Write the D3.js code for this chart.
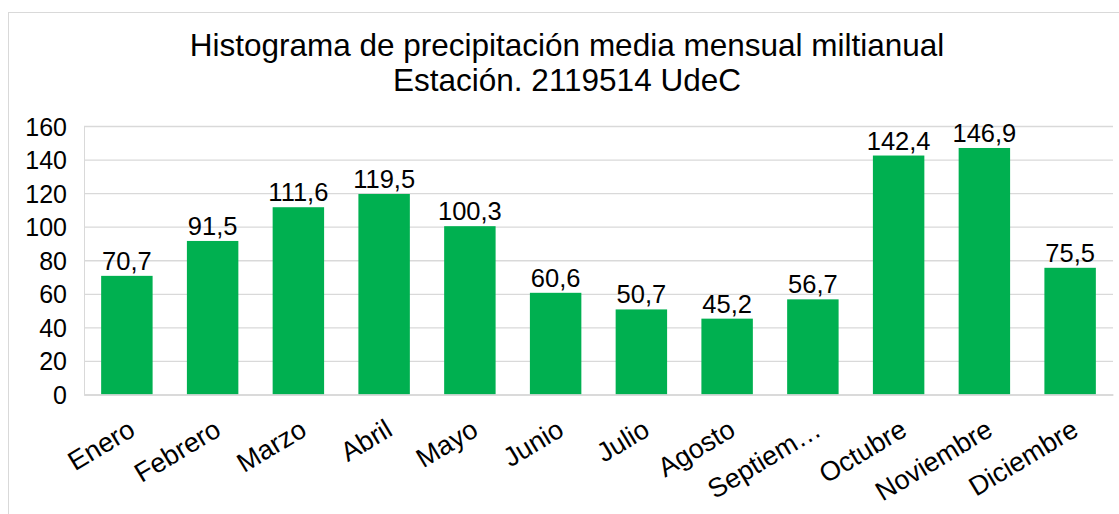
<!DOCTYPE html>
<html>
<head>
<meta charset="utf-8">
<script src="https://cdn.jsdelivr.net/npm/d3@7"></script>
<style>
    body { margin: 0; background: #fff; }
    #chart { width: 1119px; height: 514px; }
    text { font-family: "Liberation Sans", Arial, sans-serif; fill: #000; }
</style>
</head>
<body>
<div id="chart"></div>
<script>
//Datos
const meses = ['Enero', 'Febrero', 'Marzo', 'Abril', 'Mayo', 'Junio', 'Julio', 'Agosto', 'Septiem…', 'Octubre', 'Noviembre', 'Diciembre'];
const precipitacion = [70.7, 91.5, 111.6, 119.5, 100.3, 60.6, 50.7, 45.2, 56.7, 142.4, 146.9, 75.5];
const ticksY = [0, 20, 40, 60, 80, 100, 120, 140, 160];
const titulo = ['Histograma de precipitación media mensual miltianual', 'Estación. 2119514 UdeC'];

const COLOR_BAR = '#00B050', COLOR_GRID = '#D9D9D9';

let margin = {top: 126, right: 6, bottom: 120, left: 84},
    width = 1119 - margin.left - margin.right,
    height = 394.5 - margin.top;

let svg = d3.select('#chart')
    .append('svg')
        .attr('width', 1119)
        .attr('height', 514);

//Borde del gráfico
svg.append('rect')
    .attr('x', 8.5).attr('y', 12.5)
    .attr('width', 1130).attr('height', 520)
    .attr('fill', 'none')
    .attr('stroke', COLOR_GRID);

//Título
svg.append('g')
    .selectAll('text')
    .data(titulo)
    .enter()
    .append('text')
    .attr('x', 567)
    .attr('y', function(d, i) { return 56 + i * 34.5; })
    .attr('text-anchor', 'middle')
    .style('font-size', '31.5px')
    .text(function(d) { return d; });

let g = svg.append('g')
    .attr('transform', 'translate(' + margin.left + ',' + margin.top + ')');

let x = d3.scaleBand()
    .domain(meses)
    .range([0, width])
    .paddingInner(0.4)
    .paddingOuter(0.2);

let y = d3.scaleLinear()
    .domain([0, 160])
    .range([height, 0]);

//Rejilla
g.append('g')
    .call(d3.axisLeft(y).tickValues(ticksY).tickSize(-width).tickFormat(''))
    .call(function(s) {
        s.select('.domain').attr('stroke', COLOR_GRID);
        s.selectAll('.tick line').attr('stroke', COLOR_GRID).attr('stroke-width', 1.3);
    });

//Eje Y
g.append('g')
    .call(d3.axisLeft(y).tickValues(ticksY).tickSize(0).tickPadding(17))
    .call(function(s) {
        s.select('.domain').remove();
        s.selectAll('text').style('font-size', '25px').attr('dy', '0.36em');
    });

//Barras
g.append('g')
    .selectAll('rect')
    .data(precipitacion)
    .enter()
    .append('rect')
    .attr('x', function(d, i) { return x(meses[i]); })
    .attr('y', function(d) { return y(d); })
    .attr('width', x.bandwidth())
    .attr('height', function(d) { return height - y(d); })
    .attr('fill', COLOR_BAR);

//Etiquetas de datos
g.append('g')
    .selectAll('text')
    .data(precipitacion)
    .enter()
    .append('text')
    .attr('x', function(d, i) { return x(meses[i]) + x.bandwidth() / 2; })
    .attr('y', function(d) { return y(d) - 6; })
    .attr('text-anchor', 'middle')
    .style('font-size', '25.5px')
    .text(function(d) { return d3.format('.1f')(d).replace('.', ','); });

//Eje X
let ejeX = g.append('g')
    .attr('transform', 'translate(0,' + height + ')')
    .call(d3.axisBottom(x).tickSize(0).tickPadding(0));

ejeX.select('.domain').attr('stroke', COLOR_GRID).attr('stroke-width', 1.3);

ejeX.selectAll('text')
    .style('font-size', '27px')
    .attr('text-anchor', 'end')
    .attr('dy', 0)
    .attr('transform', 'translate(10,40) rotate(-31)');
</script>
</body>
</html>
